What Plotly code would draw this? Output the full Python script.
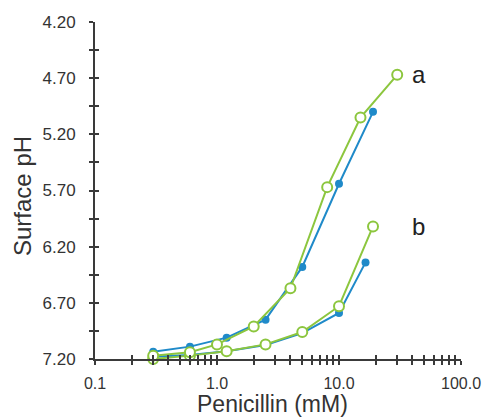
import plotly.graph_objects as go
import numpy as np

# Data
a_blue_x = [0.3, 0.6, 1.2, 2.5, 5.0, 10.0, 19.0]
a_blue_y = [7.135, 7.09, 7.01, 6.85, 6.38, 5.64, 5.00]
a_green_x = [0.3, 0.6, 1.0, 2.0, 4.0, 8.0, 15.0, 30.0]
a_green_y = [7.17, 7.14, 7.07, 6.91, 6.57, 5.67, 5.05, 4.67]
b_blue_x = [0.3, 0.6, 1.2, 2.5, 5.0, 10.0, 16.5]
b_blue_y = [7.18, 7.165, 7.13, 7.075, 6.97, 6.79, 6.34]
b_green_x = [0.3, 0.6, 1.2, 2.5, 5.0, 10.0, 19.0]
b_green_y = [7.20, 7.17, 7.13, 7.07, 6.96, 6.73, 6.02]

y_major = [4.20, 4.70, 5.20, 5.70, 6.20, 6.70, 7.20]
y_ticks = [4.20 + 0.25 * i for i in range(13)]
x_ticks = [m * 10.0 ** e for e in (-1, 0, 1) for m in range(1, 10)] + [100.0]
x_labels = {0.1: "0.1", 1.0: "1.0", 10.0: "10.0", 100.0: "100.0"}

BLUE = "#1f8ac9"
GREEN = "#8cc63e"
AX = "#3a3a3a"

fig = go.Figure()

def line(x, y, color, filled):
    fig.add_trace(go.Scatter(
        x=x, y=y, mode="lines+markers",
        line=dict(color=color, width=2),
        marker=dict(
            size=8 if filled else 10,
            color=color if filled else "white",
            line=dict(color=color, width=0 if filled else 2),
            symbol="circle",
        ),
        showlegend=False,
        cliponaxis=False,
    ))

line(b_blue_x, b_blue_y, BLUE, True)
line(b_green_x, b_green_y, GREEN, False)
line(a_blue_x, a_blue_y, BLUE, True)
line(a_green_x, a_green_y, GREEN, False)

# dummy trace for overlay axes (inside ticks)
fig.add_trace(go.Scatter(x=[], y=[], xaxis="x2", yaxis="y2", showlegend=False))

def ylab(v):
    return "%.2f" % v if any(abs(v - m) < 1e-9 for m in y_major) else ""

def xlab(v):
    for k, s in x_labels.items():
        if abs(v - k) < 1e-9:
            return s
    return ""

font = dict(family="Liberation Sans, Arial, sans-serif", color="#333333")

xcommon = dict(type="log", range=[-1, 2], tickvals=x_ticks, showgrid=False,
               zeroline=False, ticklen=4, tickwidth=1.5, tickcolor=AX, automargin=False)
ycommon = dict(range=[7.2, 4.2], tickvals=y_ticks, showgrid=False,
               zeroline=False, ticklen=4, tickwidth=1.5, tickcolor=AX, automargin=False)

W, H = 485, 418
L, R, T, B = 95, 24, 22, 59
pw, ph = W - L - R, H - T - B

fig.update_layout(
    width=W, height=H,
    margin=dict(l=L, r=R, t=T, b=B),
    paper_bgcolor="white", plot_bgcolor="white",
    font=font,
    xaxis=dict(**xcommon, ticks="outside", showline=True, linecolor=AX, linewidth=2,
               ticktext=[xlab(v) for v in x_ticks], tickfont=dict(size=16),
               ticklabelstandoff=5),
    yaxis=dict(**ycommon, ticks="outside", showline=True, linecolor=AX, linewidth=2,
               ticktext=[ylab(v) for v in y_ticks], tickfont=dict(size=17),
               ticklabelstandoff=10),
    xaxis2=dict(**xcommon, ticks="inside", showline=False, showticklabels=False,
                overlaying="x", anchor="y2"),
    yaxis2=dict(**ycommon, ticks="inside", showline=False, showticklabels=False,
                overlaying="y", anchor="x2", side="left"),
    annotations=[
        dict(x=np.log10(45), y=4.67, text="a", showarrow=False,
             font=dict(size=24, color="#222222"), xref="x", yref="y"),
        dict(x=np.log10(45), y=6.02, text="b", showarrow=False,
             font=dict(size=24, color="#222222"), xref="x", yref="y"),
        dict(x=(272 - L) / pw, y=(H - B - 404) / ph, xref="paper", yref="paper",
             text="Penicillin (mM)", showarrow=False, xanchor="center", yanchor="middle",
             font=dict(size=23, color="#333333")),
        dict(x=(22 - L) / pw, y=(H - B - 196) / ph, xref="paper", yref="paper",
             text="Surface pH", showarrow=False, xanchor="center", yanchor="middle",
             textangle=-90, font=dict(size=24, color="#333333")),
    ],
)

fig.write_html("out.html", config={"displayModeBar": False},
               post_script="document.body.style.margin='0px';document.body.style.overflow='hidden';")
